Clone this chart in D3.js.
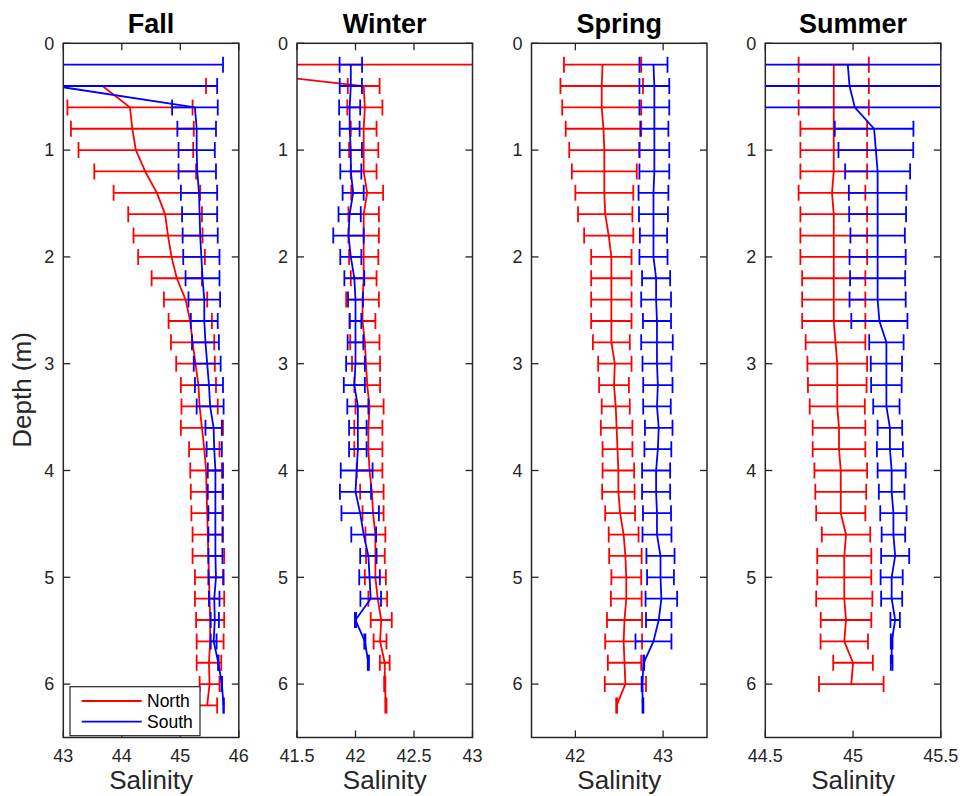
<!DOCTYPE html>
<html><head><meta charset="utf-8">
<script src="https://cdn.jsdelivr.net/npm/d3@7"></script>
<style>
body{margin:0;background:#fff}
svg{display:block}
text{font-family:"Liberation Sans",Arial,Helvetica,sans-serif}
</style>
</head><body>
<svg id="chart" width="962" height="796"></svg>
<script>
// ---------------- DATA ----------------
const depths = [0.2,0.4,0.6,0.8,1.0,1.2,1.4,1.6,1.8,2.0,2.2,2.4,2.6,2.8,3.0,3.2,3.4,3.6,3.8,4.0,4.2,4.4,4.6,4.8,5.0,5.2,5.4,5.6,5.8,6.0,6.2];
const seasons = ["Fall","Winter","Spring","Summer"];
const seriesNames = ["North","South"];
const xDomains = [[43,46],[41.5,43],[41.5,43.5],[44.5,45.5]];
const xTicks = [[43,44,45,46],[41.5,42,42.5,43],[42,43],[44.5,45,45.5]];
const yTicks = [0,1,2,3,4,5,6];
const yDomain = [0,6.5];

// Fall
const fallNorth = [null,43.67,44.14,44.18,44.24,44.40,44.60,44.74,44.79,44.85,44.94,45.09,45.17,45.21,45.26,45.31,45.33,45.37,45.41,45.44,45.45,45.46,45.47,45.48,45.49,45.50,45.51,45.51,45.49,45.50,45.46];
const fallNorthErr = [null,1.77,1.07,1.05,0.98,0.87,0.74,0.63,0.59,0.57,0.43,0.37,0.37,0.37,0.33,0.30,0.31,0.36,0.26,0.27,0.27,0.27,0.26,0.27,0.24,0.25,0.24,0.23,0.21,0.17,0.17];
const fallSouth = [42.80,42.86,45.25,45.28,45.28,45.29,45.32,45.33,45.34,45.36,45.38,45.41,45.41,45.43,45.46,45.49,45.51,45.57,45.58,45.60,45.60,45.60,45.60,45.60,45.61,45.58,45.59,45.57,45.65,45.71,45.74];
const fallSouthErr = [2.93,2.77,0.39,0.33,0.31,0.32,0.31,0.30,0.30,0.31,0.29,0.27,0.23,0.23,0.23,0.24,0.23,0.14,0.13,0.13,0.13,0.12,0.12,0.12,0.13,0.09,0.07,0.05,0.005,0.005,0.005];

// Winter
const winterNorth = [40.42,42.07,42.08,42.07,42.07,42.07,42.10,42.07,42.07,42.07,42.07,42.06,42.06,42.08,42.09,42.10,42.12,42.11,42.11,42.12,42.14,42.15,42.17,42.17,42.17,42.19,42.22,42.21,42.25,42.25,42.26];
const winterNorthErr = [3.0,0.136,0.15,0.11,0.125,0.11,0.136,0.13,0.13,0.125,0.11,0.14,0.11,0.125,0.12,0.11,0.12,0.12,0.12,0.11,0.10,0.09,0.085,0.08,0.09,0.08,0.09,0.055,0.042,0.005,0.005];
const winterSouth = [41.96,41.96,41.95,41.95,41.96,41.96,41.98,41.95,41.94,41.96,41.99,42.00,42.00,42.00,42.00,41.99,42.02,42.02,42.02,42.01,42.00,42.04,42.07,42.11,42.12,42.13,42.00,42.08,42.11,null,null];
const winterSouthErr = [0.096,0.095,0.09,0.085,0.095,0.09,0.09,0.095,0.13,0.09,0.085,0.064,0.05,0.067,0.08,0.09,0.09,0.075,0.075,0.136,0.133,0.16,0.106,0.07,0.088,0.088,0.005,0.005,0.005,null,null];

// Spring
const springNorth = [42.31,42.30,42.30,42.32,42.33,42.33,42.33,42.34,42.38,42.41,42.41,42.41,42.41,42.41,42.45,42.44,42.46,42.47,42.48,42.49,42.49,42.51,42.55,42.57,42.58,42.58,42.56,42.55,42.56,42.57,42.47];
const springNorthErr = [0.44,0.47,0.45,0.43,0.40,0.37,0.33,0.31,0.28,0.23,0.23,0.23,0.23,0.21,0.19,0.17,0.16,0.18,0.17,0.18,0.185,0.17,0.17,0.185,0.17,0.175,0.20,0.21,0.19,0.235,0.005];
const springSouth = [42.89,42.90,42.90,42.90,42.90,42.90,42.89,42.89,42.89,42.89,42.92,42.92,42.93,42.93,42.93,42.94,42.93,42.95,42.94,42.92,42.92,42.93,42.93,42.97,42.97,42.98,42.95,42.89,42.78,42.76,42.77];
const springSouthErr = [0.16,0.17,0.17,0.16,0.17,0.17,0.17,0.165,0.155,0.16,0.16,0.17,0.16,0.18,0.165,0.167,0.157,0.157,0.153,0.16,0.16,0.16,0.165,0.16,0.153,0.18,0.145,0.205,0.005,0.005,0.005];

// Summer
const summerNorth = [44.89,44.89,44.89,44.89,44.89,44.89,44.88,44.89,44.89,44.89,44.89,44.89,44.89,44.90,44.91,44.91,44.91,44.92,44.92,44.93,44.93,44.93,44.96,44.95,44.95,44.95,44.96,44.95,45.00,44.99,null];
const summerNorthErr = [0.20,0.20,0.20,0.19,0.19,0.19,0.19,0.19,0.19,0.19,0.18,0.18,0.18,0.17,0.17,0.167,0.157,0.15,0.15,0.15,0.145,0.14,0.138,0.154,0.154,0.16,0.144,0.135,0.113,0.184,null];
const summerSouth = [44.97,44.98,45.01,45.12,45.13,45.14,45.14,45.14,45.14,45.14,45.14,45.14,45.15,45.19,45.19,45.19,45.19,45.21,45.21,45.22,45.22,45.23,45.23,45.24,45.22,45.22,45.24,45.22,45.22,null,null];
const summerSouthErr = [0.7,0.7,0.7,0.224,0.213,0.185,0.164,0.162,0.155,0.16,0.157,0.16,0.16,0.098,0.089,0.087,0.075,0.07,0.074,0.08,0.073,0.075,0.067,0.08,0.063,0.06,0.027,0.005,0.005,null,null];

const panelData = [
  [[fallNorth,fallNorthErr],[fallSouth,fallSouthErr]],
  [[winterNorth,winterNorthErr],[winterSouth,winterSouthErr]],
  [[springNorth,springNorthErr],[springSouth,springSouthErr]],
  [[summerNorth,summerNorthErr],[summerSouth,summerSouthErr]]
];
const colors = ["#ff0000","#0000ff"];

// ---------------- LAYOUT ----------------
const svg = d3.select("#chart");
const topY = 43.3, bottomY = 737.5;
const lefts = [63.3, 297, 531.5, 765.3];
const pw = 175.5;
const axisColor = "#262626";
const tickLen = 7;
const capH = 8;
const lw = 1.8;

const y = d3.scaleLinear().domain(yDomain).range([topY, bottomY]);

seasons.forEach((name, i) => {
  const x0 = lefts[i];
  const x = d3.scaleLinear().domain(xDomains[i]).range([x0, x0 + pw]);
  const g = svg.append("g");

  const clipId = "clip" + i;
  svg.append("clipPath").attr("id", clipId)
    .append("rect").attr("x", x0).attr("y", topY).attr("width", pw).attr("height", bottomY - topY);

  const plot = g.append("g").attr("clip-path", `url(#${clipId})`);

  panelData[i].forEach((ser, s) => {
    const [means, errs] = ser;
    const pts = depths.map((d, k) => ({d, m: means[k], e: errs[k]}));
    const valid = pts.filter(p => p.m != null && p.e != null);
    const col = colors[s];
    const bars = plot.append("g").attr("stroke", col).attr("stroke-width", lw).attr("fill", "none");
    valid.forEach(p => {
      const xl = x(p.m - p.e), xr = x(p.m + p.e), yy = y(p.d);
      bars.append("line").attr("x1", xl).attr("x2", xr).attr("y1", yy).attr("y2", yy);
      bars.append("line").attr("x1", xl).attr("x2", xl).attr("y1", yy - capH).attr("y2", yy + capH);
      bars.append("line").attr("x1", xr).attr("x2", xr).attr("y1", yy - capH).attr("y2", yy + capH);
    });
    const line = d3.line().defined(p => p.m != null).x(p => x(p.m)).y(p => y(p.d));
    plot.append("path").datum(pts).attr("d", line)
      .attr("fill", "none").attr("stroke", col).attr("stroke-width", lw).attr("stroke-linejoin", "round");
  });

  // axes box
  g.append("rect").attr("x", x0).attr("y", topY).attr("width", pw).attr("height", bottomY - topY)
    .attr("fill", "none").attr("stroke", axisColor).attr("stroke-width", 1.5);

  // x ticks (bottom + top, inward)
  const xt = g.append("g").attr("stroke", axisColor).attr("stroke-width", 1.3);
  xTicks[i].forEach(t => {
    const xx = x(t);
    xt.append("line").attr("x1", xx).attr("x2", xx).attr("y1", bottomY).attr("y2", bottomY - tickLen);
    xt.append("line").attr("x1", xx).attr("x2", xx).attr("y1", topY).attr("y2", topY + tickLen);
    g.append("text").attr("x", xx).attr("y", bottomY + 24).attr("text-anchor", "middle")
      .attr("font-size", 18).attr("fill", axisColor).text(String(t));
  });
  // y ticks (left + right, inward)
  yTicks.forEach(t => {
    const yy = y(t);
    xt.append("line").attr("x1", x0).attr("x2", x0 + tickLen).attr("y1", yy).attr("y2", yy);
    xt.append("line").attr("x1", x0 + pw).attr("x2", x0 + pw - tickLen).attr("y1", yy).attr("y2", yy);
    g.append("text").attr("x", x0 - 9).attr("y", yy).attr("dy", "0.35em").attr("text-anchor", "end")
      .attr("font-size", 18).attr("fill", axisColor).text(String(t));
  });

  // title
  g.append("text").attr("x", x0 + pw / 2).attr("y", 33).attr("text-anchor", "middle")
    .attr("font-size", 27).attr("font-weight", "bold").attr("fill", "#000").text(name);
  // x label
  g.append("text").attr("x", x0 + pw / 2).attr("y", 789).attr("text-anchor", "middle")
    .attr("font-size", 26).attr("fill", axisColor).text("Salinity");

  // legend in first panel
  if (i === 0) {
    const lg = g.append("g");
    lg.append("rect").attr("x", 70).attr("y", 686.7).attr("width", 130).attr("height", 49)
      .attr("fill", "#fff").attr("stroke", axisColor).attr("stroke-width", 1.2);
    seriesNames.forEach((nm, s) => {
      const ly = 701 + s * 20.7;
      lg.append("line").attr("x1", 81.7).attr("x2", 141.7).attr("y1", ly).attr("y2", ly)
        .attr("stroke", colors[s]).attr("stroke-width", lw);
      lg.append("text").attr("x", 147).attr("y", ly).attr("dy", "0.35em")
        .attr("font-size", 17.5).attr("fill", "#000").text(nm);
    });
  }
});

// y label
svg.append("text").attr("transform", "translate(31,390) rotate(-90)").attr("text-anchor", "middle")
  .attr("font-size", 26).attr("fill", axisColor).text("Depth (m)");
</script>
</body></html>
